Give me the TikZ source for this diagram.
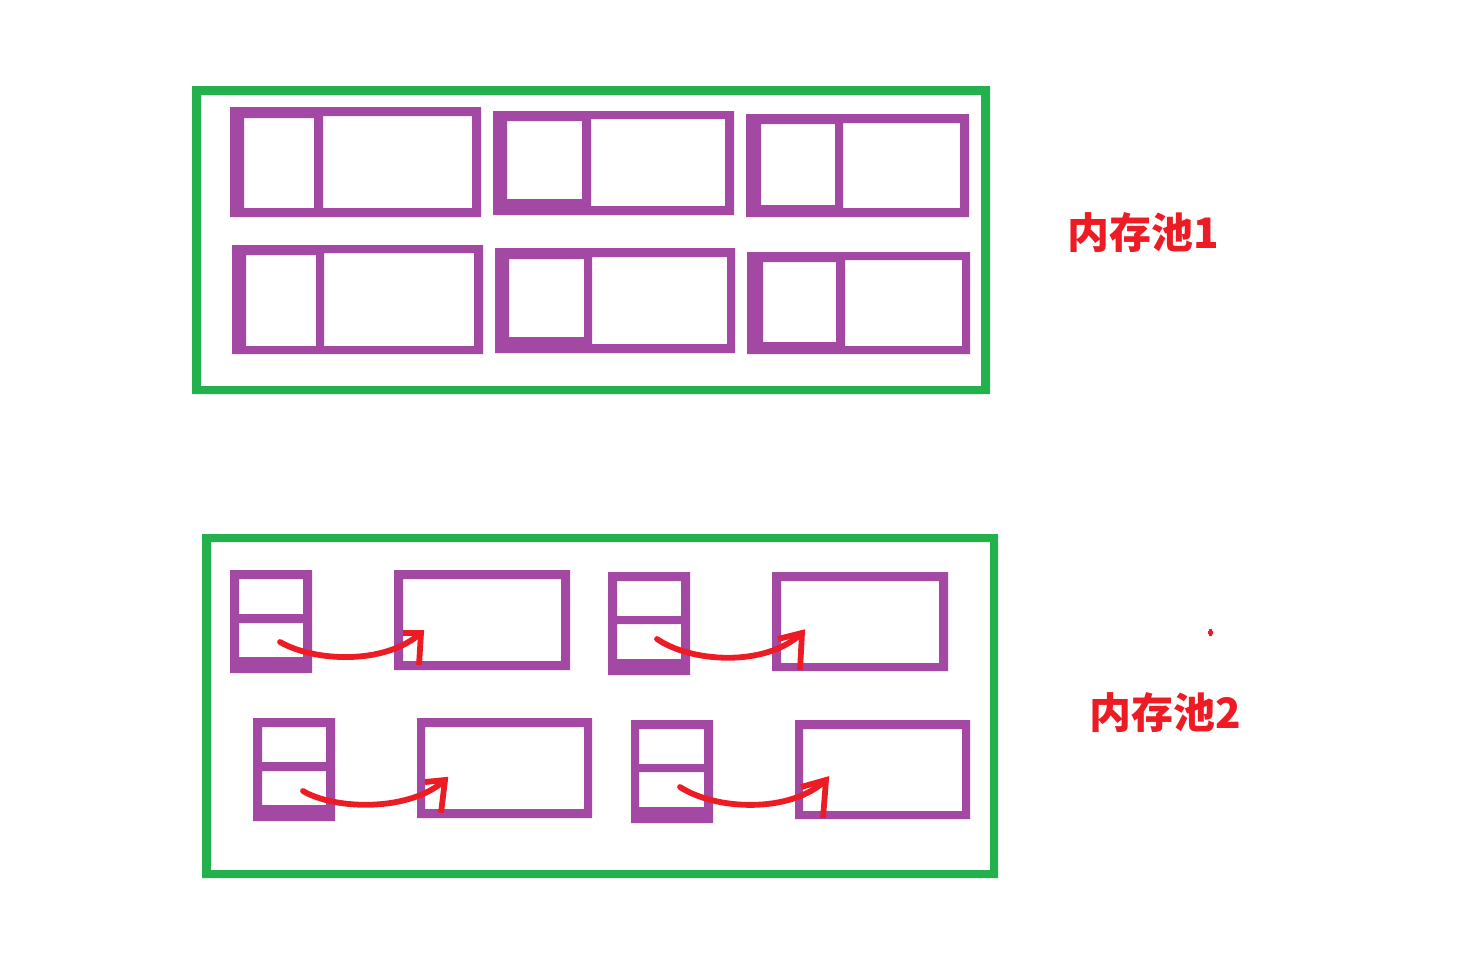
\documentclass[tikz,border=0pt]{standalone}
\usepackage{fontspec}
\newfontfamily\cjk{Noto Sans CJK SC}
\definecolor{pur}{HTML}{A349A4}
\definecolor{grn}{HTML}{22B14C}
\definecolor{rd}{HTML}{ED1C24}
\tikzset{
  poolframe/.style={fill=grn, even odd rule},
  blockfill/.style={fill=pur, even odd rule},
  linkline/.style={draw=rd, line width=2.9pt, line cap=round},
  headline/.style={draw=rd, line width=2.9pt, line join=miter, line cap=butt},
  poollabel/.style={text=rd, inner sep=0pt, font=\cjk\bfseries\fontsize{21}{21}\selectfont}
}
\begin{document}
\begin{tikzpicture}[x=0.5pt,y=-0.5pt]
\useasboundingbox (0,0) rectangle (1459,955);
\fill[white] (0,0) rectangle (1459,955);

% pool 1 frame
\fill[poolframe] (192,86) rectangle (990,394) (201,95) rectangle (981,386);
% pool 1 blocks
\fill[blockfill] (230,107) rectangle (481,217) (244,118) rectangle (314,208) (323,116) rectangle (472,208);
\fill[blockfill] (493,111) rectangle (734,215) (507,121) rectangle (582,199) (591,119) rectangle (725,206);
\fill[blockfill] (746,114) rectangle (969,217) (761,124) rectangle (835,205) (843,123) rectangle (960,208);
\fill[blockfill] (232,245) rectangle (483,354) (246,255) rectangle (316,346) (324,253) rectangle (474,346);
\fill[blockfill] (495,248) rectangle (735,353) (509,259) rectangle (584,337) (592,257) rectangle (727,344);
\fill[blockfill] (747,252) rectangle (970,354) (763,262) rectangle (836,342) (845,260) rectangle (962,346);

% pool 2 frame
\fill[poolframe] (202,534) rectangle (998,878) (211,542) rectangle (990,870);
% pool 2 headers (small) and data blocks (big)
\fill[blockfill] (230,570) rectangle (312,673) (239,579) rectangle (303,614) (239,623) rectangle (303,657);
\fill[blockfill] (394,570) rectangle (570,670) (403,579) rectangle (561,661);
\fill[blockfill] (608,572) rectangle (690,675) (617,581) rectangle (681,616) (617,624) rectangle (681,659);
\fill[blockfill] (772,572) rectangle (948,671) (781,581) rectangle (939,663);
\fill[blockfill] (253,718) rectangle (335,821) (262,727) rectangle (326,762) (262,771) rectangle (326,805);
\fill[blockfill] (417,718) rectangle (592,818) (425,727) rectangle (584,809);
\fill[blockfill] (631,720) rectangle (713,823) (639,729) rectangle (704,764) (639,772) rectangle (704,807);
\fill[blockfill] (795,720) rectangle (970,819) (803,729) rectangle (962,811);

% arrow end points
\coordinate (as) at (280,642); \coordinate (ak) at (421,633);
\coordinate (ah) at (403,633); \coordinate (av) at (419,665);
\coordinate (cs) at (657,639); \coordinate (ck) at (802,633);
\coordinate (ch) at (778,639); \coordinate (cv) at (800,670);
\coordinate (es) at (303,791); \coordinate (ek) at (445,780);
\coordinate (eh) at (425,782); \coordinate (ev) at (441,813);
\coordinate (gs) at (680,787); \coordinate (gk) at (826,780);
\coordinate (gh) at (801,787); \coordinate (gv) at (823,818);

% arrows
\draw[linkline] (as) .. controls (315,662) and (385,665) .. (ak);
\draw[headline] (ah) -- (ak) -- (av);
\draw[linkline] (cs) .. controls (690,662) and (765,668) .. (ck);
\draw[headline] (ch) -- (ck) -- (cv);
\draw[linkline] (es) .. controls (335,810) and (410,812) .. (ek);
\draw[headline] (eh) -- (ek) -- (ev);
\draw[linkline] (gs) .. controls (715,810) and (790,814) .. (gk);
\draw[headline] (gh) -- (gk) -- (gv);

% labels
\node[poollabel] (l1) at (1143,233) {内存池1};
\node[poollabel] (l2) at (1165,713) {内存池2};

% stray dot
\fill[rd] (1208,631) rectangle (1213,634) (1209,629) rectangle (1212,636);
\end{tikzpicture}
\end{document}
